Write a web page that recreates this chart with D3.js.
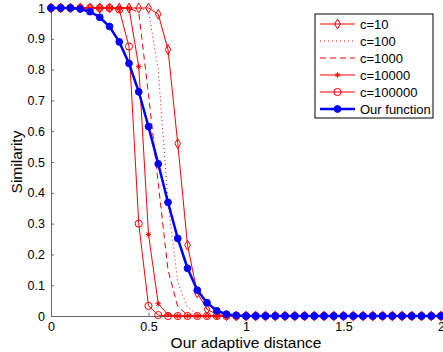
<!DOCTYPE html>
<html>
<head>
<meta charset="utf-8">
<script src="https://cdn.jsdelivr.net/npm/d3@7"></script>
<style>
  body { margin: 0; background: #fff; }
  svg { display: block; font-family: "Liberation Sans", Arial, Helvetica, sans-serif; }
</style>
</head>
<body>
<div id="chart"></div>
<script>
// adaptive distance, one point every 0.05
const dist = [0, 0.05, 0.1, 0.15, 0.2, 0.25, 0.3, 0.35, 0.4, 0.45,
  0.5, 0.55, 0.6, 0.65, 0.7, 0.75, 0.8, 0.85, 0.9, 0.95,
  1, 1.05, 1.1, 1.15, 1.2, 1.25, 1.3, 1.35, 1.4, 1.45,
  1.5, 1.55, 1.6, 1.65, 1.7, 1.75, 1.8, 1.85, 1.9, 1.95, 2];

const c10 = [1, 1, 1, 1, 1, 1, 1, 1, 1, 1,
  1, 0.98, 0.865, 0.56, 0.23, 0.075, 0.022, 0.005, 0.001, 0,
  0, 0, 0, 0, 0, 0, 0, 0, 0, 0,
  0, 0, 0, 0, 0, 0, 0, 0, 0, 0, 0];
const c100 = [1, 1, 1, 1, 1, 1, 1, 1, 1, 1,
  0.99, 0.8, 0.37, 0.11, 0.028, 0.006, 0.001, 0, 0, 0,
  0, 0, 0, 0, 0, 0, 0, 0, 0, 0,
  0, 0, 0, 0, 0, 0, 0, 0, 0, 0, 0];
const c1000 = [1, 1, 1, 1, 1, 1, 1, 1, 1, 0.985,
  0.72, 0.43, 0.15, 0.03, 0.004, 0, 0, 0, 0, 0,
  0, 0, 0, 0, 0, 0, 0, 0, 0, 0,
  0, 0, 0, 0, 0, 0, 0, 0, 0, 0, 0];
const c10000 = [1, 1, 1, 1, 1, 1, 1, 1, 1, 0.81,
  0.265, 0.04, 0.004, 0, 0, 0, 0, 0, 0, 0,
  0, 0, 0, 0, 0, 0, 0, 0, 0, 0,
  0, 0, 0, 0, 0, 0, 0, 0, 0, 0, 0];
const c100000 = [1, 1, 1, 1, 1, 1, 1, 0.995, 0.875, 0.3,
  0.033, 0.003, 0, 0, 0, 0, 0, 0, 0, 0,
  0, 0, 0, 0, 0, 0, 0, 0, 0, 0,
  0, 0, 0, 0, 0, 0, 0, 0, 0, 0, 0];
const ours = [1, 1, 1, 0.997, 0.988, 0.97, 0.94, 0.89, 0.82, 0.728,
  0.615, 0.494, 0.369, 0.252, 0.155, 0.084, 0.043, 0.017, 0.006, 0.002,
  0, 0, 0, 0, 0, 0, 0, 0, 0, 0,
  0, 0, 0, 0, 0, 0, 0, 0, 0, 0, 0];

const seriesNames = ['c=10', 'c=100', 'c=1000', 'c=10000', 'c=100000', 'Our function'];
const xTicks = [0, 0.5, 1, 1.5, 2];
const yTicks = [0, 0.1, 0.2, 0.3, 0.4, 0.5, 0.6, 0.7, 0.8, 0.9, 1];

const width = 443, height = 352;
const margin = { top: 8, right: 2, bottom: 36, left: 51 };

// matlab style '*' marker
const asterisk = {
  draw(ctx, size) {
    const r = Math.sqrt(size) / 2;
    const d = r * 0.707;
    ctx.moveTo(0, -r); ctx.lineTo(0, r);
    ctx.moveTo(-r, 0); ctx.lineTo(r, 0);
    ctx.moveTo(-d, -d); ctx.lineTo(d, d);
    ctx.moveTo(-d, d); ctx.lineTo(d, -d);
  }
};

const series = [
  { name: seriesNames[0], values: c10, color: '#ff0000', width: 1, dash: null, marker: d3.symbolDiamond, msize: 28, fill: 'none' },
  { name: seriesNames[1], values: c100, color: '#ff0000', width: 1, dash: '1,3', marker: null },
  { name: seriesNames[2], values: c1000, color: '#ff0000', width: 1, dash: '6,4', marker: null },
  { name: seriesNames[3], values: c10000, color: '#ff0000', width: 1, dash: null, marker: asterisk, msize: 30, fill: 'none' },
  { name: seriesNames[4], values: c100000, color: '#ff0000', width: 1, dash: null, marker: d3.symbolCircle, msize: 40, fill: 'none' },
  { name: seriesNames[5], values: ours, color: '#0000ff', width: 2.5, dash: null, marker: d3.symbolCircle, msize: 36, fill: '#0000ff' }
];

const svg = d3.select('#chart').append('svg')
  .attr('width', width).attr('height', height);

const x = d3.scaleLinear().domain([0, 2]).range([margin.left, width - margin.right]);
const y = d3.scaleLinear().domain([0, 1]).range([height - margin.bottom, margin.top]);

// axes (ticks inside, like matlab)
const axisColor = '#666';
const gx = svg.append('g').attr('transform', `translate(0,${y(0)})`)
  .call(d3.axisBottom(x).tickValues(xTicks).tickSizeInner(-3).tickSizeOuter(0).tickPadding(6)
    .tickFormat(d3.format('')));
const gy = svg.append('g').attr('transform', `translate(${x(0)},0)`)
  .call(d3.axisLeft(y).tickValues(yTicks).tickSizeInner(-3).tickSizeOuter(0).tickPadding(6)
    .tickFormat(d3.format('')));
[gx, gy].forEach(g => {
  g.select('.domain').attr('stroke', axisColor);
  g.selectAll('.tick line').attr('stroke', axisColor);
  g.selectAll('.tick text').attr('fill', '#000').style('font-size', '12.5px')
    .style('font-family', '"Liberation Sans", Arial, sans-serif');
});

svg.append('text')
  .attr('x', (x(0) + x(2)) / 2).attr('y', height - 4)
  .attr('text-anchor', 'middle').style('font-size', '15.5px')
  .text('Our adaptive distance');

svg.append('text')
  .attr('transform', `translate(22,${(y(0) + y(1)) / 2}) rotate(-90)`)
  .attr('text-anchor', 'middle').style('font-size', '15.5px')
  .text('Similarity');

const line = d3.line().x((d, i) => x(dist[i])).y(d => y(d));

series.forEach(s => {
  svg.append('path')
    .datum(s.values)
    .attr('d', line)
    .attr('fill', 'none')
    .attr('stroke', s.color)
    .attr('stroke-width', s.width)
    .attr('stroke-dasharray', s.dash);
  if (s.marker) {
    svg.append('g').selectAll('path')
      .data(s.values).enter().append('path')
      .attr('transform', (d, i) => `translate(${x(dist[i])},${y(d)})`)
      .attr('d', d3.symbol().type(s.marker).size(s.msize))
      .attr('fill', s.fill)
      .attr('stroke', s.color)
      .attr('stroke-width', 1);
  }
});

// legend
const lg = svg.append('g').attr('transform', 'translate(315,14)');
lg.append('rect').attr('width', 118).attr('height', 104)
  .attr('fill', '#fff').attr('stroke', '#000').attr('stroke-width', 1);
series.forEach((s, i) => {
  const ry = 10 + i * 17;
  lg.append('line').attr('x1', 5).attr('x2', 40).attr('y1', ry).attr('y2', ry)
    .attr('stroke', s.color).attr('stroke-width', s.width).attr('stroke-dasharray', s.dash);
  if (s.marker) {
    lg.append('path').attr('transform', `translate(22.5,${ry})`)
      .attr('d', d3.symbol().type(s.marker).size(s.msize))
      .attr('fill', s.fill).attr('stroke', s.color);
  }
  lg.append('text').attr('x', 45).attr('y', ry).attr('dy', '0.35em')
    .style('font-size', '13px').text(s.name);
});
</script>
</body>
</html>
